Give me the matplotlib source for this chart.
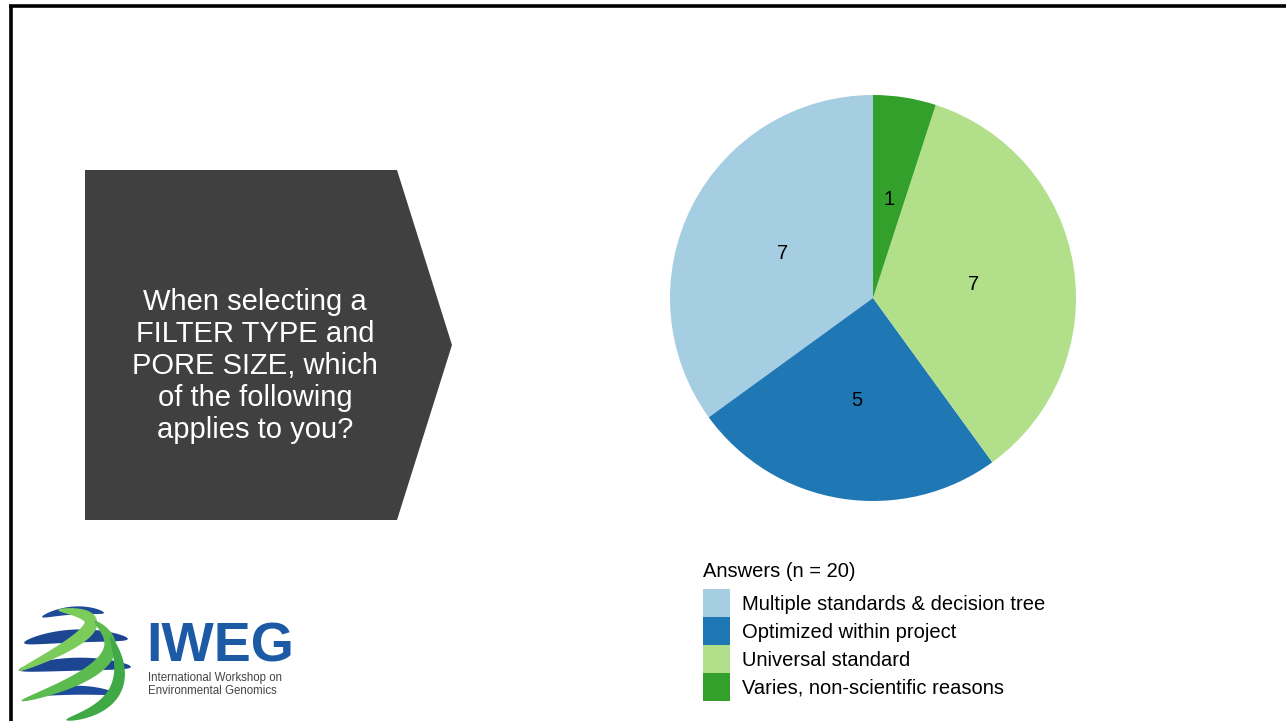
import numpy as np
import matplotlib.pyplot as plt
from matplotlib.patches import Polygon, Patch

plt.rcParams['font.family'] = ['Liberation Sans', 'DejaVu Sans']

# survey answers
answers = ["Multiple standards & decision tree", "Optimized within project",
           "Universal standard", "Varies, non-scientific reasons"]
counts = [7, 5, 7, 1]
colors = ["#a6cee3", "#1f78b4", "#b2df8a", "#33a02c"]
question = "When selecting a\nFILTER TYPE and\nPORE SIZE, which\nof the following\napplies to you?"

W, H = 1286, 721
fig = plt.figure(figsize=(W / 100, H / 100), dpi=100)

# slide layer in pixel coordinates
bg = fig.add_axes([0, 0, 1, 1])
bg.set_xlim(0, W)
bg.set_ylim(H, 0)
bg.axis("off")

bg.plot([9, W], [6, 6], color="black", lw=2.6, solid_capstyle="butt")
bg.plot([10.5, 10.5], [5, H], color="black", lw=2.6, solid_capstyle="butt")

# question arrow
bg.add_patch(Polygon([(85, 170), (397, 170), (452, 345), (397, 520), (85, 520)],
                     closed=True, facecolor="#404040", edgecolor="none"))
bg.text(255, 366, question, color="white", fontsize=21, ha="center", va="center",
        linespacing=1.18)


def ribbon(p0, p1, p2, wmax, color):
    # tapered band along a quadratic bezier
    s = np.linspace(0, 1, 100)[:, None]
    p0, p1, p2 = map(np.asarray, (p0, p1, p2))
    pts = (1 - s) ** 2 * p0 + 2 * (1 - s) * s * p1 + s ** 2 * p2
    d = 2 * (1 - s) * (p1 - p0) + 2 * s * (p2 - p1)
    n = np.column_stack([-d[:, 1], d[:, 0]])
    n /= np.linalg.norm(n, axis=1)[:, None]
    w = wmax * np.sin(np.pi * s) ** 0.5 / 2
    outline = np.vstack([pts + n * w, (pts - n * w)[::-1]])
    bg.add_patch(Polygon(outline, closed=True, facecolor=color, edgecolor="none"))


# logo: ribbon globe
ribbon((42, 617), (75, 606), (104, 613), 8, "#1d4a9a")
ribbon((24, 643), (75, 631), (128, 639), 13, "#1c4592")
ribbon((19, 670), (75, 660), (131, 667), 13, "#1c4592")
ribbon((36, 695), (75, 686), (116, 694), 9, "#1d4a9a")
ribbon((58, 610), (140, 616), (18, 671), 13, "#7ccc5c")
ribbon((94, 621), (148, 662), (21, 701), 13, "#5cbb4f")
ribbon((110, 636), (142, 703), (66, 720), 12, "#3faa45")

bg.text(146, 648, "IWEG", color="#1d5aa6", fontsize=40, fontweight="bold",
        ha="left", va="center")
bg.text(148, 678, "International Workshop on", color="#444444", fontsize=8.3,
        ha="left", va="center")
bg.text(148, 691, "Environmental Genomics", color="#444444", fontsize=8.3,
        ha="left", va="center")

# pie chart
rad = 203
ax = fig.add_axes([(873 - rad) / W, 1 - (298 + rad) / H, 2 * rad / W, 2 * rad / H])
total = sum(counts)
wedges, _, autotexts = ax.pie(counts, colors=colors, startangle=90, counterclock=True,
                              autopct=lambda p: f"{round(p * total / 100)}",
                              pctdistance=0.5, wedgeprops=dict(linewidth=0),
                              textprops=dict(fontsize=14.5, color="black"))
for t in autotexts:
    x, y = t.get_position()
    t.set_position((x, y - 0.01))
ax.set_xlim(-1, 1)
ax.set_ylim(-1, 1)
ax.set_aspect("auto")

handles = [Patch(facecolor=c, edgecolor="none") for c in colors]
leg = fig.legend(handles, answers, loc="upper left",
                 bbox_to_anchor=(693 / W, 1 - 552 / H), frameon=False,
                 fontsize=14.5, title="Answers (n = 20)", title_fontsize=14.5,
                 alignment="left", borderpad=0, labelspacing=0.0,
                 handlelength=1.35, handleheight=1.75, handletextpad=0.6)
leg._legend_box.sep = 6

fig.savefig("out.png", dpi=100, facecolor="white")
